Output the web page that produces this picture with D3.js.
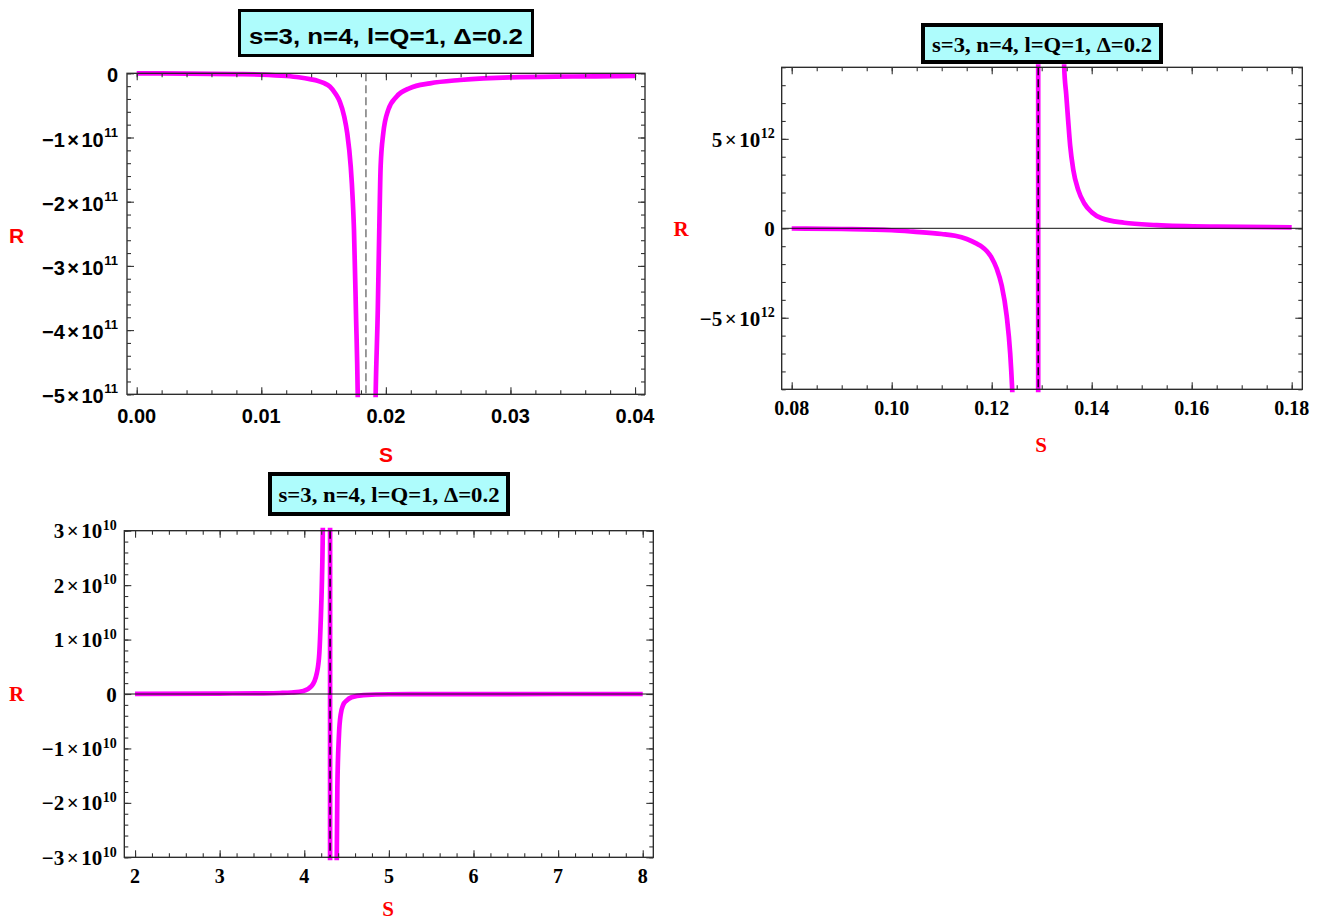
<!DOCTYPE html>
<html>
<head>
<meta charset="utf-8">
<script src="https://cdn.jsdelivr.net/npm/d3@7"></script>
<style>
  body { margin: 0; background: #fff; }
  svg { display: block; }
</style>
</head>
<body>
<svg id="chart" width="1322" height="921"></svg>
<script>
// ---------- data ----------
const titleText = "s=3, n=4, l=Q=1, \u0394=0.2";

// Panel A: S from 0 to 0.04, pole near S = 0.0184
const aBranchLeft = [
  [0.000, -0.002e11], [0.004, -0.004e11], [0.008, -0.012e11], [0.010, -0.020e11],
  [0.012, -0.042e11], [0.013, -0.062e11], [0.014, -0.094e11], [0.0145, -0.115e11],
  [0.015, -0.15e11], [0.0155, -0.205e11], [0.016, -0.33e11], [0.0163, -0.44e11],
  [0.01666, -0.676e11], [0.0169, -0.935e11], [0.01718, -1.455e11], [0.01734, -1.97e11],
  [0.01744, -2.44e11], [0.0176, -3.74e11], [0.01774, -5.0e11], [0.0178, -6.0e11]
];
const aBranchRight = [
  [0.0191, -6.0e11], [0.01918, -5.0e11], [0.01935, -3.7e11], [0.01947, -2.44e11],
  [0.01958, -1.45e11], [0.01979, -0.935e11], [0.02019, -0.57e11], [0.02087, -0.36e11],
  [0.02193, -0.23e11], [0.02354, -0.156e11], [0.02595, -0.104e11], [0.030, -0.062e11],
  [0.035, -0.05e11], [0.040, -0.042e11]
];
const aPole = 0.0184;
const aXTicks = [0.00, 0.01, 0.02, 0.03, 0.04];
const aYTicks = [0, -1e11, -2e11, -3e11, -4e11, -5e11];

// Panel B: S from 0.08 to 0.18, pole near S = 0.1293
const bBranchLeft = [
  [0.080, -0.01e12], [0.090, -0.04e12], [0.100, -0.11e12], [0.1043, -0.19e12],
  [0.110, -0.32e12], [0.1127, -0.42e12], [0.115, -0.60e12], [0.117, -0.86e12],
  [0.118, -1.02e12], [0.119, -1.27e12], [0.120, -1.65e12], [0.121, -2.25e12],
  [0.122, -3.2e12], [0.123, -4.9e12], [0.1237, -7.0e12], [0.1241, -9.0e12],
  [0.1244, -11e12]
];
const bBranchRight = [
  [0.1343, 11e12], [0.1345, 9.0e12], [0.1349, 7.5e12], [0.1353, 6.0e12],
  [0.1357, 4.6e12], [0.1363, 3.3e12], [0.1373, 2.15e12], [0.1385, 1.4e12],
  [0.140, 0.9e12], [0.142, 0.56e12], [0.1465, 0.31e12], [0.153, 0.18e12],
  [0.165, 0.09e12], [0.180, 0.056e12]
];
const bPole = 0.1293;
const bXTicks = [0.08, 0.10, 0.12, 0.14, 0.16, 0.18];
const bYTicks = [-5e12, 0, 5e12];

// Panel C: S from 2 to 8, pole near S = 4.305
const cBranchLeft = [
  [2.0, 0.003e10], [3.0, 0.008e10], [3.5, 0.012e10], [3.714, 0.018e10],
  [3.85, 0.028e10], [3.989, 0.055e10], [4.089, 0.15e10], [4.148, 0.38e10],
  [4.178, 0.75e10], [4.195, 1.36e10], [4.207, 1.97e10], [4.219, 3.0e10],
  [4.222, 3.5e10]
];
const cBranchRight = [
  [4.382, -3.5e10], [4.384, -3.0e10], [4.391, -1.73e10], [4.41, -0.75e10],
  [4.43, -0.38e10], [4.46, -0.2e10], [4.5, -0.12e10], [4.56, -0.06e10],
  [4.7, -0.02e10], [5.0, -0.005e10], [6.0, -0.001e10], [8.0, 0]
];
const cPole = 4.305;
const cXTicks = [2, 3, 4, 5, 6, 7, 8];
const cYTicks = [-3e10, -2e10, -1e10, 0, 1e10, 2e10, 3e10];

// ---------- drawing ----------
const svg = d3.select("#chart");
const SANS = "'Liberation Sans', Arial, sans-serif";
const SERIF = "'Liberation Serif', 'Times New Roman', serif";

// split a tick value into sign+mantissa and power of ten
function sciParts(v) {
  if (v === 0) return null;
  const e = Math.floor(Math.log10(Math.abs(v)) + 1e-9);
  const m = Math.round(v / Math.pow(10, e));
  return { m: m < 0 ? "\u2212" + (-m) : "" + m, e: String(e) };
}

function drawPanel(p) {
  const x = d3.scaleLinear().domain(p.xDomain).range([p.left, p.right]);
  const y = d3.scaleLinear().domain(p.yDomain).range([p.bottom, p.top]);
  const g = svg.append("g").attr("font-family", p.font).attr("font-weight", "bold");

  const clipId = "clip-" + p.key;
  g.append("clipPath").attr("id", clipId).append("rect")
    .attr("x", p.left - 3).attr("y", p.top - 3)
    .attr("width", p.right - p.left + 6).attr("height", p.bottom - p.top + 6);
  const plot = g.append("g").attr("clip-path", `url(#${clipId})`);

  const line = d3.line().x(d => x(d[0])).y(d => y(d[1])).curve(d3.curveMonotoneX);
  const straight = d3.line().x(d => x(d[0])).y(d => y(d[1]));

  p.branches.forEach(b => {
    plot.append("path").attr("d", line(b))
      .attr("fill", "none").attr("stroke", "#ff00ff").attr("stroke-width", 4.7);
  });
  if (p.jump) {
    plot.append("path")
      .attr("d", straight([[p.pole, p.yDomain[0] * 1.05], [p.pole, p.yDomain[1] * 1.05]]))
      .attr("fill", "none").attr("stroke", "#ff00ff").attr("stroke-width", 4.7);
  }

  // vertical asymptote
  g.append("line")
    .attr("x1", x(p.pole)).attr("x2", x(p.pole))
    .attr("y1", p.top).attr("y2", p.bottom)
    .attr("stroke", p.dashColor).attr("stroke-width", 1.4)
    .attr("stroke-dasharray", "8,4");

  // horizontal axis at R = 0
  if (p.zeroAxis) {
    g.append("line")
      .attr("x1", p.left).attr("x2", p.right)
      .attr("y1", y(0)).attr("y2", y(0))
      .attr("stroke", "#111").attr("stroke-width", 1);
  }

  // frame
  g.append("rect")
    .attr("x", p.left).attr("y", p.top)
    .attr("width", p.right - p.left).attr("height", p.bottom - p.top)
    .attr("fill", "none").attr("stroke", "#222").attr("stroke-width", 1.3);

  // ticks on all four sides, pointing inward
  const sides = [
    [() => d3.axisBottom(x), `translate(0,${p.bottom})`, p.xTicks, p.xMinor],
    [() => d3.axisTop(x), `translate(0,${p.top})`, p.xTicks, p.xMinor],
    [() => d3.axisLeft(y), `translate(${p.left},0)`, p.yTicks, p.yMinor],
    [() => d3.axisRight(y), `translate(${p.right},0)`, p.yTicks, p.yMinor]
  ];
  sides.forEach(([make, tr, major, minor]) => {
    const gm = g.append("g").attr("transform", tr)
      .call(make().tickValues(major).tickSize(-7).tickFormat(""));
    const gn = g.append("g").attr("transform", tr)
      .call(make().tickValues(minor).tickSize(-4).tickFormat(""));
    [gm, gn].forEach(s => {
      s.select(".domain").remove();
      s.selectAll(".tick line").attr("stroke", "#333").attr("stroke-width", 1.1);
      s.selectAll("text").remove();
    });
  });

  // x tick labels
  g.append("g").selectAll("text").data(p.xTicks).join("text")
    .attr("x", d => x(d)).attr("y", p.bottom + p.xLabelDy)
    .attr("text-anchor", "middle").attr("font-size", p.xLabelSize).attr("fill", "#000")
    .text(p.xFormat);

  // y tick labels, scientific form with superscript exponent
  const yl = g.append("g").selectAll("text").data(p.yTicks).join("text")
    .attr("x", p.left - p.yLabelGap).attr("y", d => y(d) + p.yLabelDy)
    .attr("text-anchor", "end").attr("font-size", p.yLabelSize).attr("fill", "#000");
  yl.each(function (d) {
    const t = d3.select(this);
    const parts = sciParts(d);
    if (!parts) { t.text("0"); return; }
    t.append("tspan").text(parts.m);
    t.append("tspan").attr("dx", p.timesGap).text("\u00d7");
    t.append("tspan").attr("dx", p.timesGap).text("10");
    t.append("tspan").attr("dx", 0.5).attr("font-size", p.supSize)
      .attr("dy", -p.supRaise).text(parts.e);
  });

  // axis titles
  g.append("text").attr("x", p.rPos[0]).attr("y", p.rPos[1])
    .attr("text-anchor", "middle").attr("font-size", p.axisTitleSize).attr("fill", "#ff0000").text("R");
  g.append("text").attr("x", p.sPos[0]).attr("y", p.sPos[1])
    .attr("text-anchor", "middle").attr("font-size", p.axisTitleSize).attr("fill", "#ff0000").text("S");

  // boxed title
  const b = p.titleBox;
  g.append("rect")
    .attr("x", b.x + b.stroke / 2).attr("y", b.y + b.stroke / 2)
    .attr("width", b.w - b.stroke).attr("height", b.h - b.stroke)
    .attr("fill", "#aefcfc").attr("stroke", "#000").attr("stroke-width", b.stroke);
  g.append("text")
    .attr("x", b.x + b.w / 2).attr("y", b.baseline)
    .attr("text-anchor", "middle").attr("font-size", b.size).attr("fill", "#000")
    .attr("textLength", b.textLen).attr("lengthAdjust", "spacingAndGlyphs")
    .text(titleText);
}

drawPanel({
  key: "a", font: SANS,
  left: 127, right: 645, top: 73.3, bottom: 394.3,
  xDomain: [-0.00078, 0.0408], yDomain: [-5e11, 0],
  branches: [aBranchLeft, aBranchRight], pole: aPole, jump: false,
  dashColor: "#707070", zeroAxis: false,
  xTicks: aXTicks, xMinor: d3.range(0, 0.0401, 0.002),
  yTicks: aYTicks, yMinor: d3.range(-5e11, 1, 2e10),
  xFormat: d3.format(".2f"), xLabelDy: 29, xLabelSize: 20,
  yLabelGap: 9, yLabelDy: 9, yLabelSize: 20, supSize: 13, supRaise: 10, timesGap: 2.5,
  rPos: [16.5, 243], sPos: [386, 462], axisTitleSize: 21,
  titleBox: { x: 238, y: 9, w: 296, h: 48, stroke: 3, baseline: 43.5, size: 22, textLen: 274 }
});

drawPanel({
  key: "b", font: SERIF,
  left: 781.7, right: 1302.3, top: 67.3, bottom: 389.3,
  xDomain: [0.078, 0.18212], yDomain: [-9e12, 9e12],
  branches: [bBranchLeft, bBranchRight], pole: bPole, jump: true,
  dashColor: "#000", zeroAxis: true,
  xTicks: bXTicks, xMinor: d3.range(0.08, 0.1801, 0.005),
  yTicks: bYTicks, yMinor: d3.range(-9e12, 9e12 + 1, 1e12),
  xFormat: d3.format(".2f"), xLabelDy: 25.7, xLabelSize: 20,
  yLabelGap: 7, yLabelDy: 8, yLabelSize: 21, supSize: 14, supRaise: 8.4, timesGap: 2.5,
  rPos: [681, 236], sPos: [1041, 452], axisTitleSize: 21,
  titleBox: { x: 921, y: 23, w: 242, h: 41, stroke: 4, baseline: 51.7, size: 22, textLen: 220 }
});

drawPanel({
  key: "c", font: SERIF,
  left: 124.3, right: 653.3, top: 530.7, bottom: 857.3,
  xDomain: [1.873, 8.125], yDomain: [-3e10, 3e10],
  branches: [cBranchLeft, cBranchRight], pole: cPole, jump: true,
  dashColor: "#000", zeroAxis: true,
  xTicks: cXTicks, xMinor: d3.range(2, 8.01, 0.2),
  yTicks: cYTicks, yMinor: d3.range(-3e10, 3e10 + 1, 2e9),
  xFormat: d => String(d), xLabelDy: 25.4, xLabelSize: 20,
  yLabelGap: 7.5, yLabelDy: 7.6, yLabelSize: 21, supSize: 14, supRaise: 8.3, timesGap: 2.5,
  rPos: [16.5, 701], sPos: [388, 916], axisTitleSize: 21,
  titleBox: { x: 268, y: 472, w: 242, h: 44, stroke: 4, baseline: 501.7, size: 22, textLen: 221 }
});
</script>
</body>
</html>
